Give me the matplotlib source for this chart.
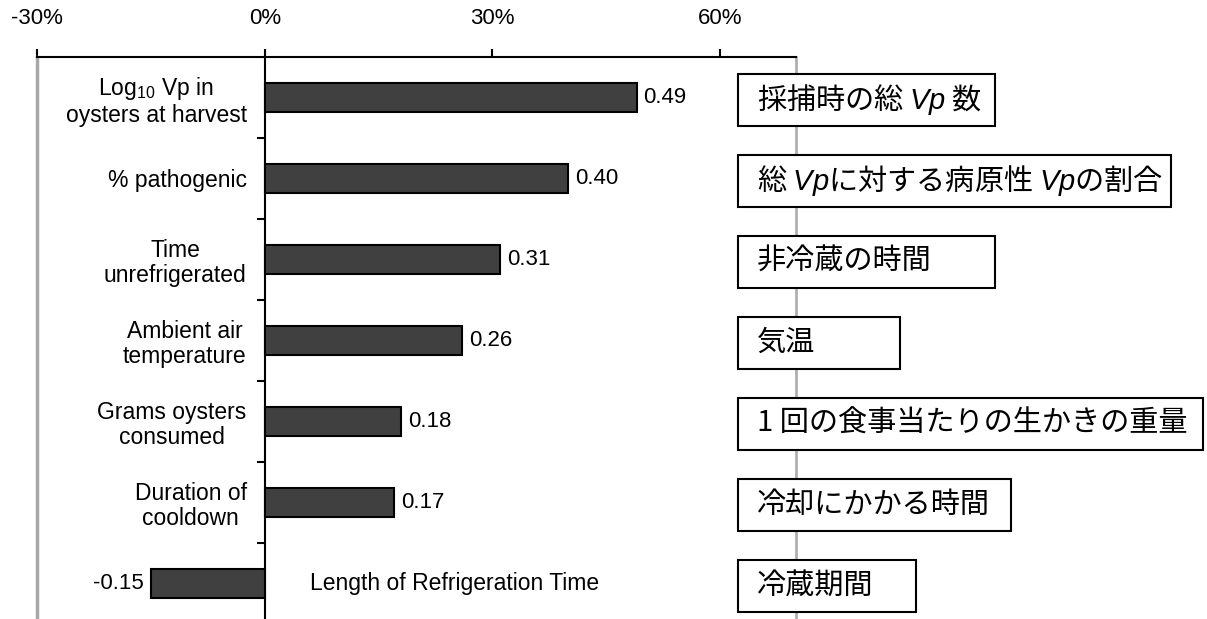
import matplotlib
matplotlib.use('Agg')
import matplotlib.pyplot as plt
from matplotlib.patches import Rectangle
from matplotlib import transforms
import numpy as np

# 데이터
categories = ['Log$_{\\mathrm{10}}$ Vp in\noysters at harvest', '% pathogenic',
              'Time\nunrefrigerated', 'Ambient air\ntemperature',
              'Grams oysters\nconsumed', 'Duration of\ncooldown',
              'Length of Refrigeration Time']
values = [0.49, 0.40, 0.31, 0.26, 0.18, 0.17, -0.15]
jp_labels = ['採捕時の総 $\\mathit{Vp}$ 数', '総 $\\mathit{Vp}$に対する病原性 $\\mathit{Vp}$の割合',
             '非冷蔵の時間', '気温', '1 回の食事当たりの生かきの重量',
             '冷却にかかる時間', '冷蔵期間']
tick_vals = [-0.3, 0.0, 0.3, 0.6]
tick_labels = ['-30%', '0%', '30%', '60%']

# 오른쪽 박스 크기 (pixel)
W, H = 1207, 619
box_left = 738
box_right = [995, 1171, 995, 900, 1203, 1011, 916]

plt.rcParams['font.family'] = ['Liberation Sans', 'DejaVu Sans']
plt.rcParams['mathtext.fontset'] = 'custom'
plt.rcParams['mathtext.rm'] = 'Liberation Sans'
plt.rcParams['mathtext.it'] = 'Liberation Sans:italic'

fig = plt.figure(figsize=(W / 100, H / 100), dpi=100)
ax = fig.add_axes([37 / W, -5 / H, (796 - 37) / W, (624 - 57) / H])

y = np.arange(len(values))
ax.barh(y, values, height=0.36, color='#404040', edgecolor='black', linewidth=1.5, zorder=3)
ax.set_xlim(-0.30, 0.70)
ax.set_ylim(len(values) - 0.5, -0.5)

# 값 라벨
for yi, v in zip(y, values):
    if v >= 0:
        ax.annotate('%.2f' % v, (v, yi), xytext=(5, 0), textcoords='offset points',
                    ha='left', va='center', fontsize=16)
    else:
        ax.annotate('%.2f' % v, (v, yi), xytext=(-5, 0), textcoords='offset points',
                    ha='right', va='center', fontsize=16)

# x 축 (위쪽)
ax.xaxis.tick_top()
ax.set_xticks(tick_vals)
ax.set_xticklabels(tick_labels, fontsize=16)
ax.tick_params(axis='x', direction='out', length=6, width=1.5, pad=14)

# y 축: 0 위치에
ax.spines['left'].set_position(('data', 0))
ax.spines['left'].set_linewidth(1.5)
ax.spines['top'].set_linewidth(1.5)
ax.spines['bottom'].set_visible(False)
ax.spines['right'].set_color('#b0b0b0')
ax.spines['right'].set_linewidth(2)
ax.axvline(-0.30, color='#a8a8a8', lw=2.5, clip_on=False)

ax.set_yticks(y)
ax.set_yticklabels(categories[:-1] + [''], fontsize=16.5, linespacing=1.1)
for lab in ax.get_yticklabels():
    lab.set_multialignment('center')
ax.set_yticks(y[:-1] + 0.5, minor=True)
ax.tick_params(axis='y', which='major', length=0, pad=13)
ax.tick_params(axis='y', which='minor', length=6, width=1.5, direction='out')

ax.text(0.06, y[-1], categories[-1], ha='left', va='center', fontsize=16.5)

# 일본어 박스
trans = transforms.blended_transform_factory(fig.transFigure, ax.transData)
for yi, lab, r in zip(y, jp_labels, box_right):
    rect = Rectangle((box_left / W, yi + 0.03 - 0.32), (r - box_left) / W, 0.64,
                     transform=trans, facecolor='white', edgecolor='black',
                     linewidth=1.5, clip_on=False, zorder=5)
    ax.add_patch(rect)
    ax.text(757 / W, yi + 0.03, lab, transform=trans, ha='left', va='center',
            fontsize=21, family='Noto Sans CJK JP', clip_on=False, zorder=6)

fig.savefig('out.png', dpi=100)
